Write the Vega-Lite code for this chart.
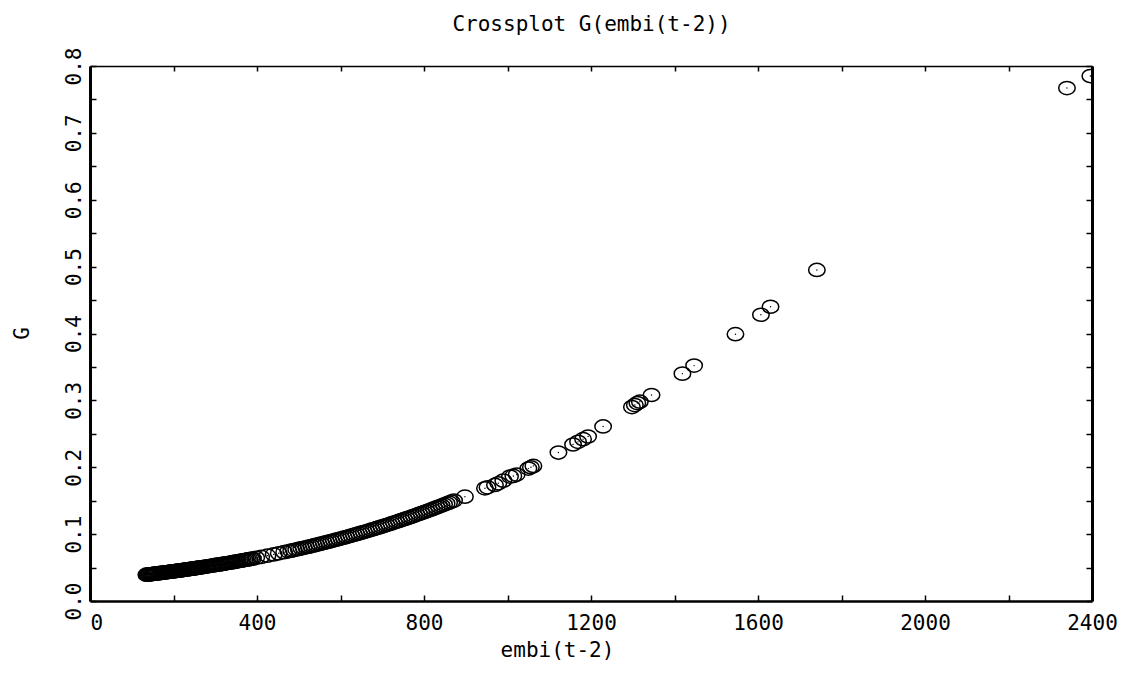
{
"$schema": "https://vega.github.io/schema/vega-lite/v6.json",
"autosize": "none",
"width": 1002,
"height": 535,
"padding": {"left": 90, "top": 66, "right": 40, "bottom": 74},
"background": "white",
"config": {"view": {"stroke": null}, "font": "DejaVu Sans Mono"},
"data": {"values": [
{"embi":135,"G":0.0393},{"embi":137.5,"G":0.0394},{"embi":140,"G":0.0396},{"embi":142.5,"G":0.0398},{"embi":145,"G":0.0400},{"embi":147.5,"G":0.0402},{"embi":150,"G":0.0404},{"embi":152.5,"G":0.0406},{"embi":155,"G":0.0408},{"embi":157.5,"G":0.0410},{"embi":160,"G":0.0412},{"embi":162.5,"G":0.0414},{"embi":165,"G":0.0416},{"embi":167.5,"G":0.0418},{"embi":170,"G":0.0420},{"embi":172.5,"G":0.0422},{"embi":175,"G":0.0424},{"embi":177.5,"G":0.0426},{"embi":180,"G":0.0428},{"embi":182.5,"G":0.0430},{"embi":185,"G":0.0432},{"embi":187.5,"G":0.0434},{"embi":190,"G":0.0436},{"embi":192.5,"G":0.0438},{"embi":195,"G":0.0440},{"embi":197.5,"G":0.0442},{"embi":200,"G":0.0444},{"embi":202.5,"G":0.0446},{"embi":205,"G":0.0448},{"embi":207.5,"G":0.0451},{"embi":210,"G":0.0453},{"embi":212.5,"G":0.0455},{"embi":215,"G":0.0457},{"embi":217.5,"G":0.0459},{"embi":220,"G":0.0461},{"embi":222.5,"G":0.0463},{"embi":225,"G":0.0466},{"embi":227.5,"G":0.0468},{"embi":230,"G":0.0470},{"embi":232.5,"G":0.0472},{"embi":235,"G":0.0475},{"embi":237.5,"G":0.0477},{"embi":240,"G":0.0479},{"embi":242.5,"G":0.0481},{"embi":245,"G":0.0484},{"embi":247.5,"G":0.0486},{"embi":250,"G":0.0488},{"embi":252.5,"G":0.0491},{"embi":255,"G":0.0493},{"embi":257.5,"G":0.0495},{"embi":260,"G":0.0498},{"embi":262.5,"G":0.0500},
{"embi":266,"G":0.0503},{"embi":270,"G":0.0507},{"embi":274,"G":0.0511},{"embi":278,"G":0.0515},{"embi":282,"G":0.0519},{"embi":286,"G":0.0523},{"embi":290,"G":0.0527},{"embi":294,"G":0.0531},{"embi":298,"G":0.0535},{"embi":302,"G":0.0539},{"embi":306,"G":0.0543},{"embi":310,"G":0.0547},{"embi":314,"G":0.0551},{"embi":318,"G":0.0555},{"embi":322,"G":0.0559},{"embi":326,"G":0.0564},{"embi":330,"G":0.0568},{"embi":334,"G":0.0572},{"embi":338,"G":0.0576},{"embi":342,"G":0.0581},{"embi":346,"G":0.0585},{"embi":350,"G":0.0589},{"embi":354,"G":0.0594},{"embi":358,"G":0.0598},{"embi":362,"G":0.0603},{"embi":366,"G":0.0608},{"embi":370,"G":0.0612},{"embi":374,"G":0.0617},{"embi":378,"G":0.0621},{"embi":382,"G":0.0626},{"embi":386,"G":0.0630},{"embi":390,"G":0.0635},
{"embi":398,"G":0.0645},{"embi":410,"G":0.0659},{"embi":425,"G":0.0678},{"embi":440,"G":0.0697},{"embi":452,"G":0.0713},{"embi":465,"G":0.0730},{"embi":475,"G":0.0743},
{"embi":482,"G":0.0753},{"embi":488,"G":0.0761},{"embi":494,"G":0.0770},{"embi":500,"G":0.0778},{"embi":506,"G":0.0787},{"embi":512,"G":0.0795},{"embi":518,"G":0.0804},{"embi":524,"G":0.0813},{"embi":530,"G":0.0822},{"embi":536,"G":0.0831},{"embi":542,"G":0.0840},{"embi":548,"G":0.0850},{"embi":554,"G":0.0859},{"embi":560,"G":0.0868},{"embi":566,"G":0.0878},{"embi":572,"G":0.0887},{"embi":578,"G":0.0897},{"embi":584,"G":0.0907},{"embi":590,"G":0.0917},{"embi":596,"G":0.0927},{"embi":602,"G":0.0937},{"embi":608,"G":0.0947},{"embi":614,"G":0.0957},{"embi":620,"G":0.0968},{"embi":626,"G":0.0978},{"embi":632,"G":0.0989},{"embi":638,"G":0.0999},{"embi":644,"G":0.1010},{"embi":650,"G":0.1021},{"embi":656,"G":0.1032},{"embi":662,"G":0.1043},{"embi":668,"G":0.1054},{"embi":674,"G":0.1066},{"embi":680,"G":0.1077},{"embi":686,"G":0.1089},{"embi":692,"G":0.1100},{"embi":698,"G":0.1112},{"embi":704,"G":0.1124},{"embi":710,"G":0.1136},{"embi":716,"G":0.1148},{"embi":722,"G":0.1160},{"embi":728,"G":0.1172},{"embi":734,"G":0.1185},{"embi":740,"G":0.1197},{"embi":746,"G":0.1210},{"embi":752,"G":0.1223},{"embi":758,"G":0.1235},{"embi":764,"G":0.1248},{"embi":770,"G":0.1261},{"embi":776,"G":0.1274},{"embi":782,"G":0.1288},{"embi":788,"G":0.1302},{"embi":794,"G":0.1315},{"embi":800,"G":0.1328},{"embi":806,"G":0.1342},{"embi":812,"G":0.1356},{"embi":818,"G":0.1370},{"embi":824,"G":0.1384},{"embi":830,"G":0.1399},{"embi":836,"G":0.1413},{"embi":842,"G":0.1428},{"embi":848,"G":0.1442},{"embi":854,"G":0.1457},{"embi":860,"G":0.1472},{"embi":866,"G":0.1487},{"embi":872,"G":0.1502},
{"embi":898,"G":0.156},{"embi":946,"G":0.1685},{"embi":952,"G":0.170},{"embi":970,"G":0.1735},{"embi":978,"G":0.176},{"embi":990,"G":0.180},{"embi":1006,"G":0.186},{"embi":1014,"G":0.187},{"embi":1022,"G":0.189},{"embi":1050,"G":0.198},{"embi":1056,"G":0.200},{"embi":1062,"G":0.202},{"embi":1122,"G":0.222},{"embi":1157,"G":0.234},{"embi":1169,"G":0.238},{"embi":1181,"G":0.242},{"embi":1193,"G":0.246},{"embi":1229,"G":0.261},{"embi":1298,"G":0.290},{"embi":1305,"G":0.293},{"embi":1311,"G":0.296},{"embi":1317,"G":0.298},{"embi":1345,"G":0.308},{"embi":1419,"G":0.340},{"embi":1447,"G":0.352},{"embi":1546,"G":0.399},{"embi":1607,"G":0.428},{"embi":1630,"G":0.440},{"embi":1741,"G":0.495},{"embi":2340,"G":0.767},{"embi":2396,"G":0.785}
]},
"layer": [
{
"mark": {"type": "point", "shape": "M-1,0A1,0.8 0 1,1 1,0A1,0.8 0 1,1 -1,0Z", "size": 272, "filled": false, "stroke": "black", "strokeWidth": 1.5, "opacity": 1, "clip": true},
"encoding": {
"x": {"field": "embi", "type": "quantitative", "scale": {"domain": [0, 2400], "nice": false, "zero": false},
"axis": {"orient": "bottom", "values": [0,200,400,600,800,1000,1200,1400,1600,1800,2000,2200,2400], "format": "d", "labelExpr": "datum.value % 400 === 0 ? datum.label : ''", "grid": false, "tickSize": -6, "tickWidth": 1.5, "tickColor": "black", "domainColor": "black", "domainWidth": 2.5, "labelFont": "DejaVu Sans Mono", "labelFontSize": 21, "labelColor": "black", "labelPadding": 17, "labelBaseline": "top", "labelAlign": {"condition": {"test": "datum.value === 0", "value": "left"}, "value": "center"}, "labelFlush": false, "labelOverlap": false, "title": "embi(t-2)", "titleFont": "DejaVu Sans Mono", "titleFontSize": 21, "titleFontWeight": "normal", "titleColor": "black", "titleX": 467, "titleY": 55, "titleBaseline": "alphabetic", "titleAlign": "center"}},
"y": {"field": "G", "type": "quantitative", "scale": {"domain": [0, 0.8], "nice": false, "zero": false},
"axis": {"orient": "left", "values": [0,0.05,0.1,0.15,0.2,0.25,0.3,0.35,0.4,0.45,0.5,0.55,0.6,0.65,0.7,0.75,0.8], "labelExpr": "round(datum.value*100) % 10 === 0 ? format(datum.value, '.1f') : ''", "grid": false, "tickSize": -6, "tickWidth": 1.5, "tickColor": "black", "domainColor": "black", "domainWidth": 3, "labelFont": "DejaVu Sans Mono", "labelFontSize": 21, "labelColor": "black", "labelAngle": 270, "labelAlign": "center", "labelBaseline": "alphabetic", "labelPadding": 16, "labelFlush": false, "labelOverlap": false, "title": "G", "titleFont": "DejaVu Sans Mono", "titleFontSize": 21, "titleFontWeight": "normal", "titleColor": "black", "titleAngle": 270, "titleX": -62, "titleY": 267, "titleBaseline": "alphabetic", "titleAlign": "center"}}
}
},
{
"mark": {"type": "point", "shape": "circle", "size": 2, "filled": true, "color": "black", "opacity": 1, "clip": true},
"encoding": {
"x": {"field": "embi", "type": "quantitative", "axis": {"orient": "top", "values": [0,200,400,600,800,1000,1200,1400,1600,1800,2000,2200,2400], "labels": false, "title": "Crossplot G(embi(t-2))", "titleFont": "DejaVu Sans Mono", "titleFontSize": 21, "titleFontWeight": "normal", "titleColor": "black", "titleX": 501, "titleY": -36, "titleBaseline": "alphabetic", "titleAlign": "center", "grid": false, "tickSize": -5, "tickWidth": 1.5, "tickColor": "black", "domainColor": "black", "domainWidth": 1.5}},
"y": {"field": "G", "type": "quantitative", "axis": {"orient": "right", "values": [0,0.05,0.1,0.15,0.2,0.25,0.3,0.35,0.4,0.45,0.5,0.55,0.6,0.65,0.7,0.75,0.8], "labels": false, "title": null, "grid": false, "tickSize": -6, "tickWidth": 1.5, "tickColor": "black", "domainColor": "black", "domainWidth": 3}}
}
}
],
"resolve": {"axis": {"x": "independent", "y": "independent"}}
}
